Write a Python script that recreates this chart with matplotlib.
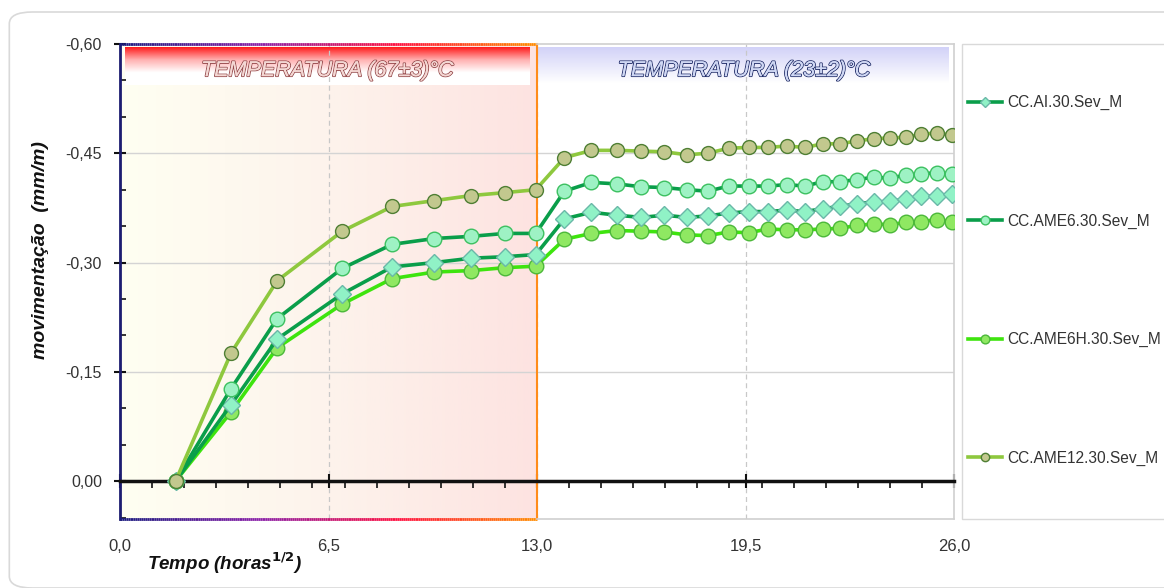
#!/usr/bin/env python3

import numpy as np
import matplotlib
matplotlib.use("Agg")
import matplotlib.pyplot as plt
import matplotlib.patheffects as pe
from matplotlib.collections import LineCollection
from matplotlib.colors import LinearSegmentedColormap
from matplotlib.patches import FancyBboxPatch, Rectangle
from matplotlib.ticker import FuncFormatter, MultipleLocator

plt.rcParams['font.family'] = ['Liberation Sans', 'DejaVu Sans']

# time of each reading, hours (plotted as sqrt(hours))
hours = [3, 12, 24, 48, 72, 96, 120, 144, 168,
         192, 216, 240, 264, 288, 312, 336, 360, 384, 408, 432,
         456, 480, 504, 528, 552, 576, 600, 624, 648, 672]

ai_30 = [0.0, -0.105, -0.195, -0.257, -0.294, -0.300, -0.306, -0.308, -0.311,
         -0.360, -0.369, -0.365, -0.362, -0.365, -0.362, -0.364, -0.368, -0.370, -0.370, -0.372,
         -0.370, -0.374, -0.377, -0.381, -0.383, -0.384, -0.387, -0.391, -0.391, -0.394]
ame6_30 = [0.0, -0.127, -0.223, -0.292, -0.325, -0.333, -0.336, -0.340, -0.340,
           -0.398, -0.410, -0.408, -0.404, -0.403, -0.400, -0.398, -0.405, -0.405, -0.405, -0.407,
           -0.405, -0.411, -0.411, -0.414, -0.417, -0.416, -0.420, -0.422, -0.423, -0.422]
ame6h_30 = [0.0, -0.095, -0.183, -0.243, -0.278, -0.287, -0.289, -0.293, -0.295,
            -0.332, -0.340, -0.344, -0.343, -0.342, -0.338, -0.337, -0.342, -0.341, -0.346, -0.345,
            -0.345, -0.346, -0.347, -0.351, -0.353, -0.352, -0.355, -0.356, -0.359, -0.356]
ame12_30 = [0.0, -0.176, -0.275, -0.343, -0.377, -0.385, -0.392, -0.396, -0.400,
            -0.444, -0.454, -0.454, -0.453, -0.452, -0.448, -0.450, -0.457, -0.458, -0.458, -0.460,
            -0.458, -0.463, -0.463, -0.467, -0.470, -0.471, -0.472, -0.476, -0.478, -0.475]

labels = ['CC.AI.30.Sev_M', 'CC.AME6.30.Sev_M', 'CC.AME6H.30.Sev_M', 'CC.AME12.30.Sev_M']

x = np.sqrt(hours)
y_top, y_bot = -0.60, 0.052

fig = plt.figure(figsize=(11.64, 5.88), dpi=100)
# outer rounded frame
fig.patches.append(FancyBboxPatch((0.008, 0.0), 1.2, 1-12/588, boxstyle="round,pad=0,rounding_size=0.02",
                                  transform=fig.transFigure, fc='white', ec='#d9d9d9', lw=1.2, zorder=-5))
# legend frame
fig.patches.append(Rectangle((962/1164, 1-519/588), 0.3, 475/588, transform=fig.transFigure,
                             fc='white', ec='#d9d9d9', lw=1.0, zorder=-4))

ax = fig.add_axes([120/1164, 1-519/588, 834/1164, 475/588])
ax.set_xlim(0, 26)
ax.set_ylim(y_bot, y_top)
ax.set_facecolor('none')

# heated period background (left)
grad = np.linspace(0, 1, 256).reshape(1, -1)
bg_cmap = LinearSegmentedColormap.from_list('bg', ['#fffff2', '#fdf3ec', '#fde3e1'])
ax.imshow(grad, cmap=bg_cmap, extent=[0, 13, y_bot, y_top], aspect='auto', zorder=0)

# header bands
vgrad = np.linspace(0, 1, 256).reshape(-1, 1)
red_cmap = LinearSegmentedColormap.from_list('r', ['#ff1a1a', '#ffb0b0', '#ffffff', '#ffffff'])
ax.imshow(vgrad, cmap=red_cmap, extent=[0.16, 12.76, -0.544, -0.596], aspect='auto', zorder=1)
blue_cmap = LinearSegmentedColormap.from_list('b', ['#d2d2f8', '#e8e8fb', '#ffffff'])
ax.imshow(vgrad, cmap=blue_cmap, extent=[12.98, 25.83, -0.546, -0.595], aspect='auto', zorder=1)

# grid
for gy in [-0.45, -0.30, -0.15]:
    ax.plot([0, 26], [gy, gy], color='#d4d4d4', lw=1.0, zorder=1.5)
for gx in [6.5, 13.0, 19.5]:
    ax.plot([gx, gx], [y_bot, y_top], color='#c8c8c8', lw=0.9, ls=(0, (4, 3)), zorder=1.5)

# frame: gradient border on the heated period, grey elsewhere
frame_cmap = LinearSegmentedColormap.from_list('f', ['#1c1c80', '#8a20a8', '#ff1040', '#ff8c00'])
xs = np.linspace(0, 13, 200)
for yy in [y_top, y_bot]:
    pts = np.array([xs, np.full_like(xs, yy)]).T.reshape(-1, 1, 2)
    segs = np.concatenate([pts[:-1], pts[1:]], axis=1)
    lc = LineCollection(segs, cmap=frame_cmap, lw=2.0, zorder=3, clip_on=False)
    lc.set_array(xs[:-1])
    ax.add_collection(lc)
ax.plot([13, 13], [y_bot, y_top], color='#ff8c1a', lw=1.5, zorder=3, clip_on=False)
ax.plot([13, 26], [y_top, y_top], color='#d0d0d0', lw=1.2, zorder=3, clip_on=False)
ax.plot([13, 26], [y_bot, y_bot], color='#d0d0d0', lw=1.2, zorder=3, clip_on=False)
ax.plot([26, 26], [y_bot, y_top], color='#d0d0d0', lw=1.2, zorder=3, clip_on=False)

for s in ['top', 'right']:
    ax.spines[s].set_visible(False)
ax.spines['left'].set_color('#1c1c70')
ax.spines['left'].set_linewidth(2.0)
ax.spines['bottom'].set_position(('data', 0))
ax.spines['bottom'].set_color('#111111')
ax.spines['bottom'].set_linewidth(2.5)
ax.spines['bottom'].set_zorder(4)

ax.xaxis.set_major_locator(MultipleLocator(6.5))
ax.xaxis.set_minor_locator(MultipleLocator(1.0))
ax.yaxis.set_major_locator(MultipleLocator(0.15))
ax.yaxis.set_minor_locator(MultipleLocator(0.05))
ax.xaxis.set_major_formatter(FuncFormatter(lambda v, p: f"{v:.1f}".replace('.', ',')))
ax.yaxis.set_major_formatter(FuncFormatter(lambda v, p: f"{v:.2f}".replace('.', ',').replace('-0,00', '0,00')))
ax.tick_params(axis='x', which='major', direction='inout', length=10, width=1.5, pad=37,
               labelsize=12, colors='#111111', labelcolor='#333333')
ax.tick_params(axis='x', which='minor', direction='out', length=5, width=1.2, colors='#111111')
ax.tick_params(axis='y', which='major', direction='inout', length=8, width=1.5, pad=9,
               labelsize=11.5, colors='#111111', labelcolor='#333333')
ax.tick_params(axis='y', which='minor', direction='in', length=4, width=1.2, colors='#111111')
for t in ax.get_xticklabels():
    t.set_family(['Liberation Sans Narrow', 'Liberation Sans'])

# series
ax.plot(x, ame6h_30, color='#3ee40e', lw=2.6, marker='o', ms=10.5, mfc='#8fe862',
        mec='#4cb83a', mew=1.0, zorder=5, label=labels[2])
ax.plot(x, ai_30, color='#0a9e4a', lw=2.6, marker='D', ms=9, mfc='#90f2c6',
        mec='#6ab8a8', mew=1.0, zorder=6, label=labels[0])
ax.plot(x, ame6_30, color='#0a9e4a', lw=2.6, marker='o', ms=10.5, mfc='#9ef2c4',
        mec='#3cc060', mew=1.0, zorder=7, label=labels[1])
ax.plot(x, ame12_30, color='#8ec83e', lw=2.6, marker='o', ms=10, mfc='#c2c88e',
        mec='#4f7f34', mew=1.0, zorder=8, label=labels[3])

# header texts
ax.text(6.46, -0.5635, 'TEMPERATURA (67±3)°C', ha='center', va='center', fontsize=15.5,
        style='italic', color='#f4d8d4', zorder=9,
        path_effects=[pe.withStroke(linewidth=1.3, foreground='#94484a'), pe.Normal()])
ax.text(19.45, -0.5635, 'TEMPERATURA (23±2)°C', ha='center', va='center', fontsize=15.5,
        style='italic', color='#d0d8f4', zorder=9,
        path_effects=[pe.withStroke(linewidth=1.3, foreground='#1e2a66'), pe.Normal()])

fig.text(41/1164, 1-250/588, 'movimentação  (mm/m)', rotation=90, ha='center', va='center',
         fontsize=14, fontweight='bold', style='italic', color='#111111')
fig.text(147/1164, 1-563/588, r'Tempo (horas$^{\mathbf{1/2}}$)', ha='left', va='center',
         fontsize=13.5, fontweight='bold', style='italic', color='#111111')

# legend
handles, labs = ax.get_legend_handles_labels()
hl = sorted(zip([labels.index(l) for l in labs], handles, labs))
leg = fig.legend([h for _, h, _ in hl], [l for _, _, l in hl], loc='upper left',
                 bbox_to_anchor=(968/1164, 1-95/588), frameon=False, fontsize=11.2,
                 borderaxespad=0, borderpad=0, labelspacing=6.65, handlelength=2.2,
                 handletextpad=0.3, markerscale=0.6)
for t in leg.get_texts():
    t.set_color('#333333')

plt.savefig('out.png', dpi=100)
